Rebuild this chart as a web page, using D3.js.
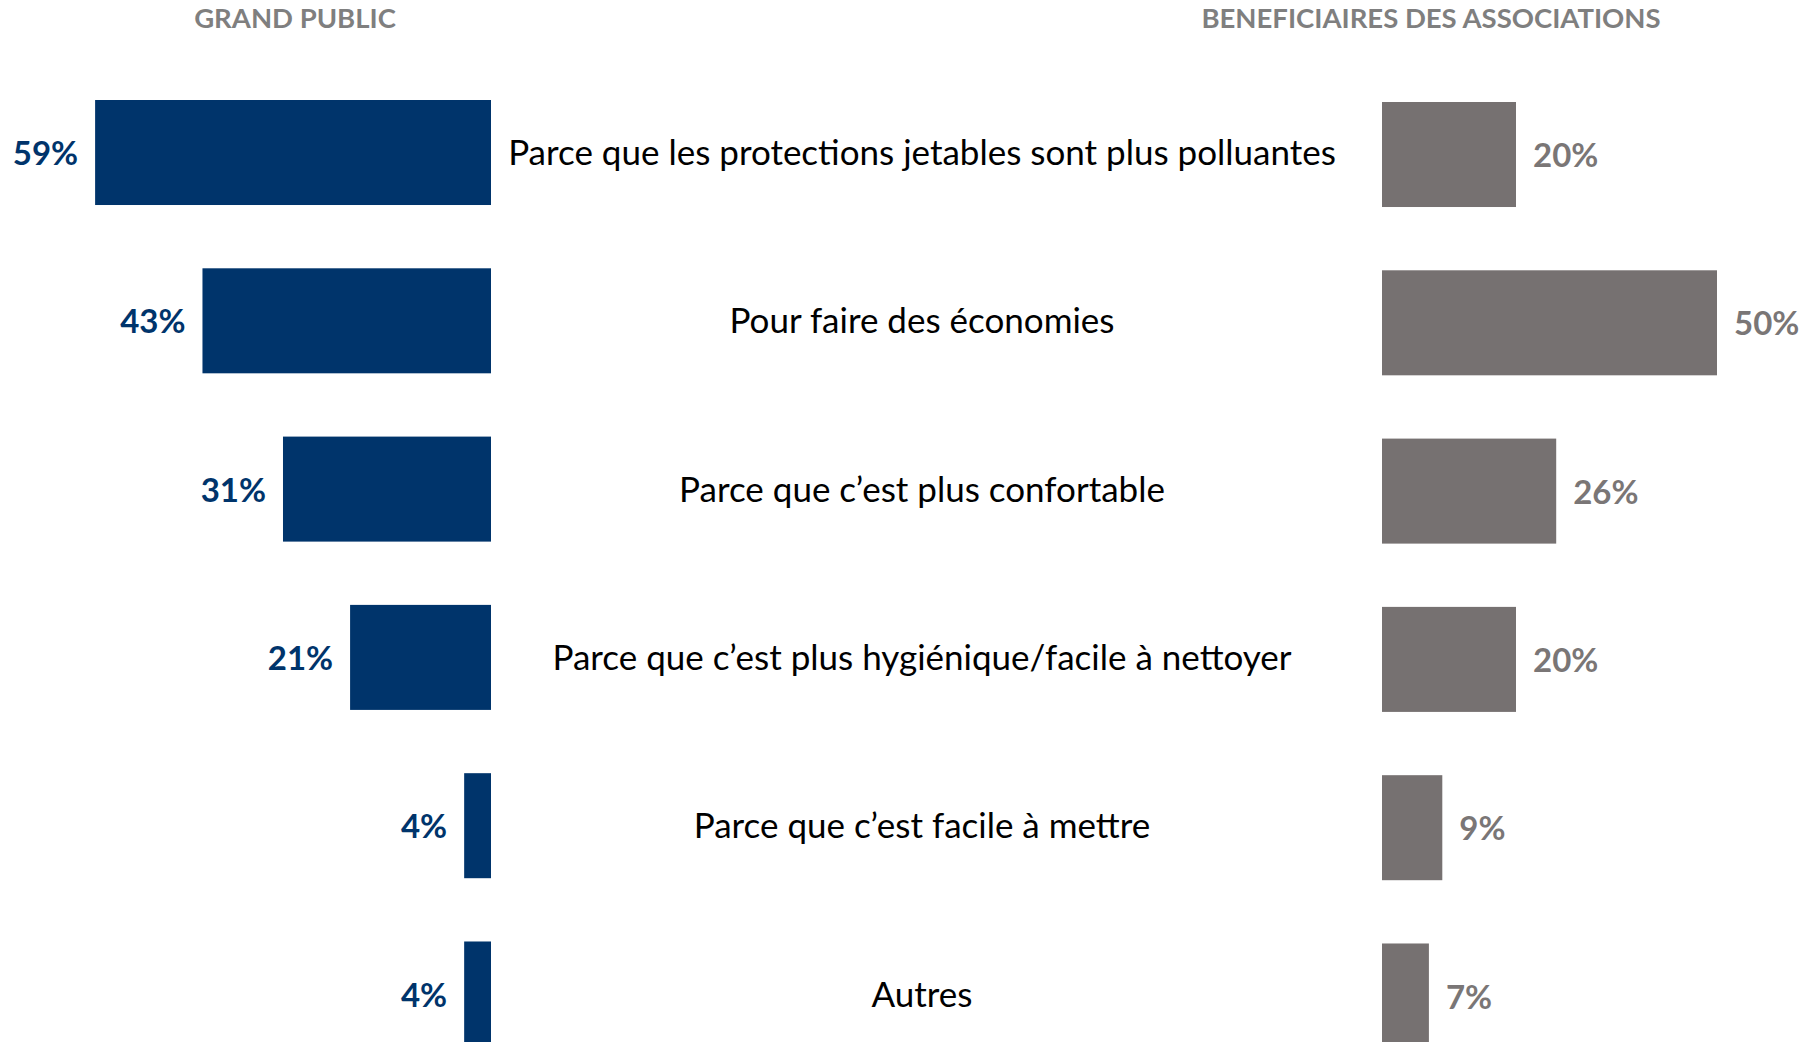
<!DOCTYPE html>
<html>
<head>
<meta charset="utf-8">
<script src="https://cdn.jsdelivr.net/npm/d3@7"></script>
<style>
  body { margin: 0; background: #fff; }
  svg { display: block; }
</style>
</head>
<body>
<div class="chart"></div>
<script>
const categories = [
  "Parce que les protections jetables sont plus polluantes",
  "Pour faire des économies",
  "Parce que c\u2019est plus confortable",
  "Parce que c\u2019est plus hygiénique/facile à nettoyer",
  "Parce que c\u2019est facile à mettre",
  "Autres"
];
const grandPublic = [59, 43, 31, 21, 4, 4];
const beneficiaires = [20, 50, 26, 20, 9, 7];
const headers = ["GRAND PUBLIC", "BENEFICIAIRES DES ASSOCIATIONS"];

const width = 1803;
const height = 1042;
const font = "Lato, 'Open Sans', sans-serif";
const navy = "#00346b";
const grey = "#767171";

const svg = d3.select(".chart")
              .append("svg")
              .attr("width", width)
              .attr("height", height);

const yScale = d3.scaleBand()
                 .domain(categories)
                 .range([100, 1046.5])
                 .paddingInner(0.376)
                 .paddingOuter(0);

const leftScale = d3.scaleLinear()
                    .domain([0, 100])
                    .range([491, 491 - 671]);

const rightScale = d3.scaleLinear()
                     .domain([0, 100])
                     .range([1382, 1382 + 670]);

// headers
svg.selectAll(".header")
   .data(headers)
   .enter()
   .append("text")
   .attr("class", "header")
   .attr("x", (d, i) => i === 0 ? 295 : 1431)
   .attr("y", 28)
   .attr("text-anchor", "middle")
   .attr("font-family", font)
   .attr("font-weight", "bold")
   .attr("font-size", 27.5)
   .attr("fill", "#7f7f7f")
   .text(d => d);

// grand public bars
svg.selectAll(".bar-left")
   .data(grandPublic)
   .enter()
   .append("rect")
   .attr("class", "bar-left")
   .attr("x", d => leftScale(d))
   .attr("y", (d, i) => yScale(categories[i]))
   .attr("width", d => leftScale(0) - leftScale(d))
   .attr("height", yScale.bandwidth())
   .attr("fill", navy);

svg.selectAll(".label-left")
   .data(grandPublic)
   .enter()
   .append("text")
   .attr("class", "label-left")
   .attr("x", d => leftScale(d) - 17)
   .attr("y", (d, i) => yScale(categories[i]) + yScale.bandwidth() / 2)
   .attr("dy", "0.38em")
   .attr("text-anchor", "end")
   .attr("font-family", font)
   .attr("font-weight", "bold")
   .attr("font-size", 33)
   .attr("fill", navy)
   .text(d => d + "%");

// beneficiaires bars
svg.selectAll(".bar-right")
   .data(beneficiaires)
   .enter()
   .append("rect")
   .attr("class", "bar-right")
   .attr("x", rightScale(0))
   .attr("y", (d, i) => yScale(categories[i]) + 2)
   .attr("width", d => rightScale(d) - rightScale(0))
   .attr("height", yScale.bandwidth())
   .attr("fill", grey);

svg.selectAll(".label-right")
   .data(beneficiaires)
   .enter()
   .append("text")
   .attr("class", "label-right")
   .attr("x", d => rightScale(d) + 17)
   .attr("y", (d, i) => yScale(categories[i]) + 2 + yScale.bandwidth() / 2)
   .attr("dy", "0.38em")
   .attr("font-family", font)
   .attr("font-weight", "bold")
   .attr("font-size", 33)
   .attr("fill", "#7a7676")
   .text(d => d + "%");

// category labels in the middle
svg.selectAll(".category")
   .data(categories)
   .enter()
   .append("text")
   .attr("class", "category")
   .attr("x", 922)
   .attr("y", d => yScale(d) + yScale.bandwidth() / 2)
   .attr("dy", "0.36em")
   .attr("text-anchor", "middle")
   .attr("font-family", font)
   .attr("font-size", 35)
   .attr("fill", "#000")
   .text(d => d);
</script>
</body>
</html>
